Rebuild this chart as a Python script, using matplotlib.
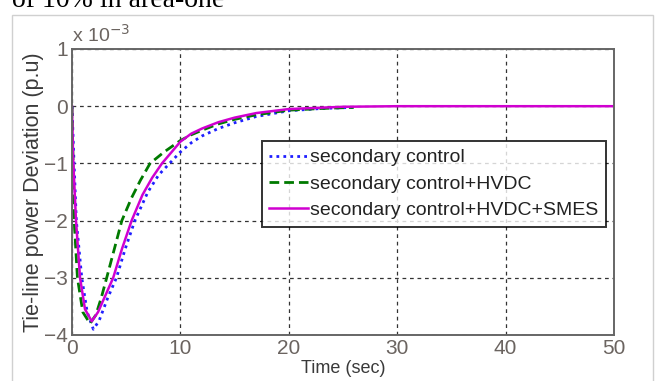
import matplotlib.pyplot as plt
from matplotlib.patches import Rectangle

# secondary control (blue dotted)
t_sec = [0, 0.15, 0.4, 0.9, 1.4, 1.97, 2.5, 3.3, 4.1, 4.9, 5.8, 7, 8, 9, 10, 11, 12, 13.5, 15, 17, 20, 23, 26]
y_sec = [0, -0.8, -2.0, -3.0, -3.6, -3.9, -3.75, -3.35, -3.0, -2.5, -2.0, -1.5, -1.2, -1.0, -0.8,
         -0.64, -0.52, -0.39, -0.29, -0.18, -0.08, -0.04, -0.02]

# secondary control + HVDC (green dashed)
t_hvdc = [0, 0.2, 0.5, 1.0, 1.66, 2.2, 2.7, 3.2, 3.9, 4.6, 5.5, 6.3, 7.2, 8.5, 10, 11, 12, 13.5, 15, 17, 20, 23, 26]
y_hvdc = [0, -2.0, -3.0, -3.6, -3.8, -3.65, -3.35, -3.0, -2.5, -2.0, -1.6, -1.3, -1.0, -0.8, -0.6,
          -0.5, -0.42, -0.31, -0.23, -0.15, -0.07, -0.04, -0.02]

# secondary control + HVDC + SMES (magenta solid)
t_smes = [0, 0.1, 0.37, 0.74, 1.2, 1.82, 2.4, 3.1, 3.8, 4.6, 5.5, 6.5, 7.4, 8.3, 10, 11, 12, 13.5, 15, 17,
          20, 25, 30, 40, 50]
y_smes = [0, -0.9, -2.0, -3.0, -3.55, -3.76, -3.6, -3.3, -3.0, -2.5, -2.0, -1.55, -1.25, -1.0, -0.62,
          -0.48, -0.39, -0.28, -0.2, -0.12, -0.05, -0.01, 0, 0, 0]

labels = ["secondary control", "secondary control+HVDC", "secondary control+HVDC+SMES"]

plt.rcParams['font.family'] = ['Liberation Sans', 'DejaVu Sans']

fig = plt.figure(figsize=(6.59, 3.81), dpi=100)
fig.patches.append(Rectangle((12 / 659, -0.1), (653 - 12) / 659, 1 - 15 / 381 + 0.1,
                             transform=fig.transFigure, fill=False, edgecolor='#d0d0d0', lw=1))
fig.text(12 / 659, 1 - 7 / 381, "of 10% in area-one", family='Liberation Serif', fontsize=20,
         va='baseline', ha='left', color='black')

ax = fig.add_axes([72 / 659, 1 - 335 / 381, 542 / 659, 286 / 381])

ax.plot(t_sec, y_sec, color='#1f1fff', ls=(0, (1, 1.5)), lw=2.0, label=labels[0])
ax.plot(t_hvdc, y_hvdc, color='#007a00', ls=(0, (3.5, 1.8)), lw=2.0, label=labels[1])
ax.plot(t_smes, y_smes, color='#d000d0', ls='-', lw=1.8, label=labels[2])

ax.set_xlim(0, 50)
ax.set_ylim(-4, 1)
ax.set_xticks([0, 10, 20, 30, 40, 50])
ax.set_yticks([-4, -3, -2, -1, 0, 1])
ax.grid(True, color='#333333', ls=(0, (3, 3)), lw=0.9)
ax.tick_params(direction='in', length=0, labelcolor='#6b6460', labelsize=15, pad=3)
for s in ax.spines.values():
    s.set_color('#666666')
    s.set_linewidth(1.4)

ax.set_xlabel("Time (sec)", fontsize=13, color='#3a3a3a', labelpad=1)
ax.set_ylabel("Tie-line power Deviation (p.u)", fontsize=15.5, color='#3a3a3a', labelpad=0)
ax.text(0.0, 1.01, r"x 10$^{-3}$", transform=ax.transAxes, fontsize=14, color='#6b6460',
        ha='left', va='bottom')

leg = ax.legend(loc='upper left', bbox_to_anchor=(0.35, 0.678), fontsize=14, frameon=True,
                fancybox=False, edgecolor='black', handlelength=2.0, handletextpad=0.1,
                borderpad=0.4, labelspacing=0.45, borderaxespad=0)
leg.get_frame().set_linewidth(1.4)
for txt in leg.get_texts():
    txt.set_color('#222222')

fig.savefig("out.png", dpi=100)
